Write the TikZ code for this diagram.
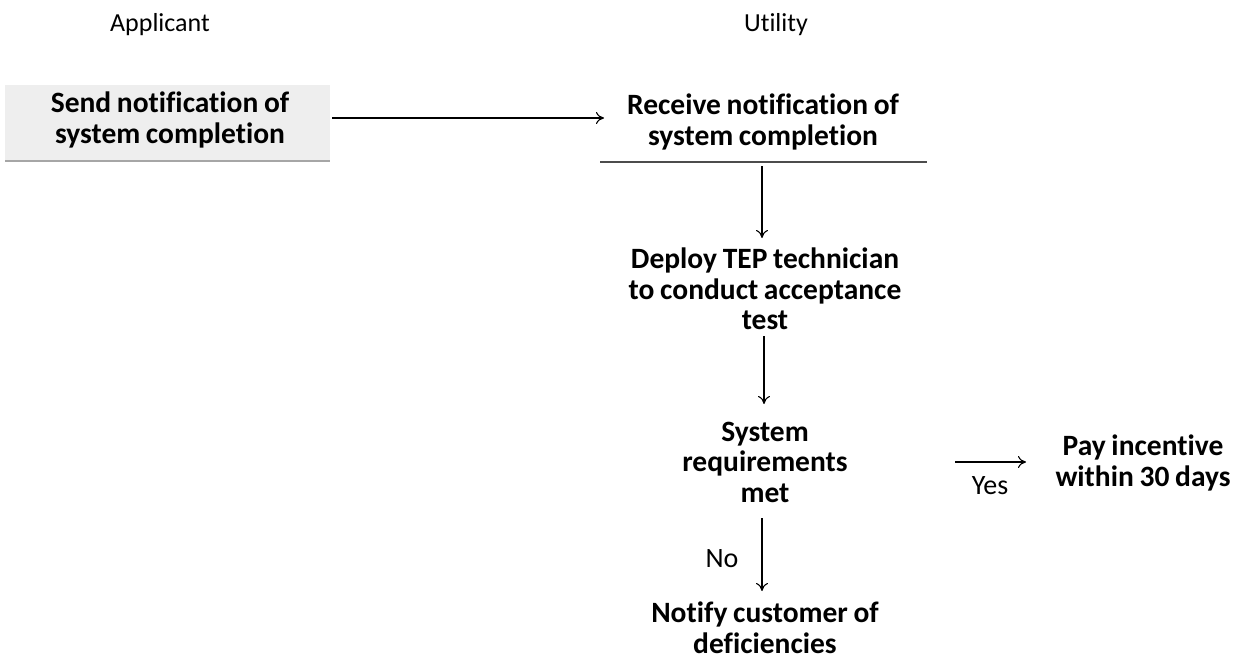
\documentclass[tikz,border=0pt]{standalone}
\usepackage{fontspec}
\setmainfont{Carlito}[Ligatures=NoCommon, WordSpace=0.85]
\usetikzlibrary{arrows.meta}
\begin{document}
\begin{tikzpicture}[x=1pt,y=-1pt,
  lane/.style={font=\fontsize{26}{30}\selectfont, anchor=center},
  stepbox/.style={font=\bfseries\fontsize{29.5}{30.5}\selectfont, align=center, inner sep=0pt},
  flow/.style={draw=black, line width=1.1pt, -{To[length=8pt,width=12pt,line width=1.1pt]}},
  tag/.style={font=\fontsize{28}{30}\selectfont, inner sep=0pt}]
\useasboundingbox (0,0) rectangle (1233,666);

% lane headings
\node[lane] (applicant) at (160,25) {Applicant};
\node[lane] (utility) at (776,25) {Utility};

% applicant side: shaded step
\fill[gray!13] (5,85) rectangle (330,161);
\draw[gray!70, line width=1.2pt] (5,161) -- (330,161);
\node[stepbox] (send) at (170,120) {Send notification of\\system completion};

% utility side
\node[stepbox] (receive) at (763,122) {Receive notification of\\system completion};
\draw[gray!60!black, line width=1.1pt] (600,162) -- (927,162);

\node[stepbox] (deploy) at (765,289) {Deploy TEP technician\\to conduct acceptance\\test};
\node[stepbox] (check) at (765,462) {System\\requirements\\met};
\node[stepbox] (pay) at (1143,463) {Pay incentive\\within 30 days};
\node[stepbox] (notify) at (765,628) {Notify customer of\\deficiencies};

% connector ends
\coordinate (send-out) at (332,118);
\coordinate (receive-in) at (604,118);
\coordinate (receive-out) at (762,166);
\coordinate (deploy-in) at (762,238);
\coordinate (deploy-out) at (764,336);
\coordinate (check-in) at (764,404);
\coordinate (check-yes) at (955,462);
\coordinate (pay-in) at (1026,462);
\coordinate (check-no) at (762,518);
\coordinate (notify-in) at (762,591);

% connectors
\draw[flow] (send-out) -- (receive-in);
\draw[flow] (receive-out) -- (deploy-in);
\draw[flow] (deploy-out) -- (check-in);
\draw[flow] (check-yes) -- (pay-in);
\node[tag] (yes) at (990,486) {Yes};
\draw[flow] (check-no) -- (notify-in);
\node[tag] (no) at (722,559) {No};
\end{tikzpicture}
\end{document}
